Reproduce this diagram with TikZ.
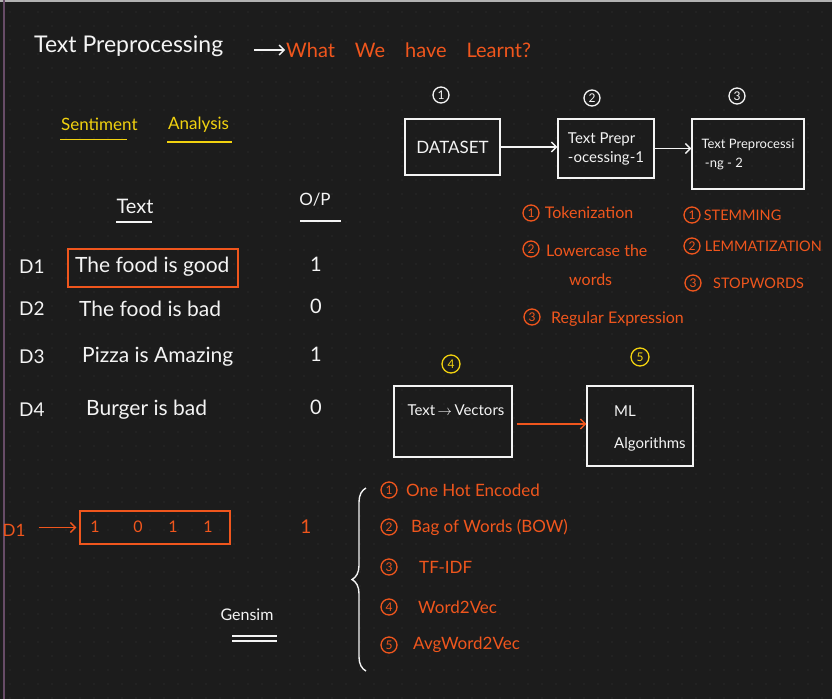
\documentclass[tikz,border=0pt]{standalone}
\usepackage{fontspec}
\setmainfont{Lato}
\usetikzlibrary{arrows.meta,positioning,decorations.pathreplacing}
\definecolor{board}{HTML}{1C1C1C}
\definecolor{chalk}{HTML}{F4F4F4}
\definecolor{marker}{HTML}{F0561D}
\definecolor{hilite}{HTML}{F2D20F}
\definecolor{griddot}{HTML}{3A3A3A}

\tikzset{
  wtext/.style={text=chalk, inner sep=1pt},
  otext/.style={text=marker, inner sep=1pt, font=\fontsize{16}{18}\selectfont},
  ytext/.style={text=hilite, inner sep=1pt, font=\fontsize{17}{19}\selectfont},
  stepbox/.style={draw=chalk, line width=1.4pt, text=chalk, inner sep=2pt},
  num/.style={circle, draw, line width=1.3pt, inner sep=0pt, minimum size=16pt, font=\fontsize{12}{12}\selectfont},
  arr/.style={-{Straight Barb[length=5pt,width=10pt]}, line width=1.3pt},
  uline/.style={line width=1.7pt},
}

\begin{document}
\begin{tikzpicture}[x=1pt, y=-1pt]
  \fill[board] (0,0) rectangle (832,699);
  \useasboundingbox (0,0) rectangle (832,699);
  % dotted board
  \foreach \gx in {10,24,...,830}
    \foreach \gy in {12,26,...,698}
      \fill[griddot] (\gx,\gy) circle (0.7pt);
  \draw[gray!60, line width=2pt] (0,1) -- (832,1);
  \draw[violet!30!black!70, line width=1.5pt] (4,0) -- (4,699);

  % heading
  \node[wtext, anchor=west, font=\fontsize{23}{25}\selectfont] (title) at (33,46) {Text Preprocessing};
  \node[otext, anchor=west, font=\fontsize{20}{22}\selectfont] (learnt) at (285,50) {What\quad We\quad have\quad Learnt?};
  \draw[arr, chalk, shorten <=30pt] (title.east |- learnt.west) -- (learnt.west);

  \node[ytext, anchor=west] (senti) at (60,124) {Sentiment};
  \node[ytext, anchor=west] (analysis) at (167,125) {Analysis};
  \draw[hilite, uline] ([yshift=-8pt]senti.south west) -- ++(67,0);
  \draw[hilite, uline] ([yshift=-8pt]analysis.south west) -- ++(65,0);

  % pipeline
  \node[stepbox, minimum width=95pt, minimum height=56pt, font=\fontsize{17}{19}\selectfont] (ds) at (452.5,147) {DATASET};
  \node[stepbox, minimum width=96pt, minimum height=59pt, align=left, font=\fontsize{15}{19}\selectfont] (pp1) at (606,148.5) {Text Prepr\\-ocessing-1};
  \node[stepbox, minimum width=112pt, minimum height=70pt, align=left, font=\fontsize{13}{19}\selectfont] (pp2) at (748,154) {Text Preprocessi\\ \ -ng - 2};
  \node[num, chalk] (n1) at (441,95) {1};
  \node[num, chalk] (n2) at (592,98) {2};
  \node[num, chalk] (n3) at (737,96) {3};
  \draw[arr, chalk] (ds.east) -- (ds.east -| pp1.west);
  \draw[arr, chalk] (pp1.east) -- (pp1.east -| pp2.west);

  \node[num, marker] (a1) at (531,213) {1};
  \node[otext, right=4pt of a1] (tok) {Tokenization};
  \node[num, marker] (a2) at (531,249) {2};
  \node[otext, anchor=west] (low) at (545,251) {Lowercase the};
  \node[otext, anchor=west] (wrd) at (568,280) {words};
  \node[num, marker] (a3) at (532,317) {3};
  \node[otext, anchor=west] (regex) at (550,319) {Regular Expression};

  \node[num, marker] (b1) at (692,215) {1};
  \node[otext, right=2pt of b1, font=\fontsize{14.5}{16}\selectfont] (stem) {STEMMING};
  \node[num, marker] (b2) at (692,246) {2};
  \node[otext, right=3pt of b2, font=\fontsize{14.5}{16}\selectfont] (lemma) {LEMMATIZATION};
  \node[num, marker] (b3) at (693,283) {3};
  \node[otext, anchor=west, font=\fontsize{14.5}{16}\selectfont] (stop) at (712,283) {STOPWORDS};

  % table
  \node[wtext, font=\fontsize{20}{22}\selectfont] (hText) at (135,206) {Text};
  \node[wtext, font=\fontsize{17}{19}\selectfont] (hOP) at (315,200) {O/P};
  \draw[chalk, uline] (116,222) -- (152,222);
  \draw[chalk, uline] (300,221) -- (341,221);

  \node[draw=marker, line width=1.4pt, minimum width=170pt, minimum height=38pt] (hl) at (153,268) {};
  \foreach \d/\txt/\ty/\tx/\op in {1/The food is good/267/74/1, 2/The food is bad/309/78/0,
                                   3/Pizza is Amazing/357/81/1, 4/Burger is bad/410/85/0}{
    \node[wtext, anchor=west, font=\fontsize{19}{21}\selectfont] (d\d) at (18,\ty) {D\d};
    \node[wtext, anchor=west, font=\fontsize{21}{23}\selectfont] (s\d) at (\tx,\ty) {\txt};
    \node[wtext, font=\fontsize{20}{22}\selectfont] (o\d) at (316,\ty-3) {\op};
  }

  % vectors
  \node[num, hilite, minimum size=18pt] (n4) at (451,364) {4};
  \node[num, hilite, minimum size=18pt] (n5) at (640,357) {5};
  \node[stepbox, minimum width=118pt, minimum height=71pt] (tv) at (453,421.5) {};
  \node[wtext, font=\fontsize{15}{17}\selectfont] (tvt) at (456,410) {Text$\,\rightarrow\,$Vectors};
  \node[stepbox, minimum width=106pt, minimum height=80pt] (ml) at (640,426) {};
  \node[wtext, anchor=west, font=\fontsize{15}{17}\selectfont] (mlt) at (613,411) {ML};
  \node[wtext, anchor=west, font=\fontsize{15}{17}\selectfont] (algt) at (613,444) {Algorithms};
  \draw[arr, marker, shorten <=4pt] (tv.east |- 0,424) -- (ml.west |- 0,424);

  % one row as a vector
  \node[otext, font=\fontsize{17}{19}\selectfont] (vd) at (14,530) {D1};
  \node[draw=marker, line width=1.4pt, minimum width=150pt, minimum height=33pt] (vec) at (155,527.5) {};
  \foreach \v/\vx [count=\i] in {1/95,0/138,1/173,1/208}
    \node[otext, font=\fontsize{16}{18}\selectfont] (v\i) at (\vx,527) {\v};
  \node[otext, font=\fontsize{19}{21}\selectfont] (vop) at (306,527) {1};
  \draw[arr, marker, shorten <=12pt, shorten >=3pt] (vd.east |- vec.west) -- (vec.west);

  % encodings
  \coordinate (bb) at (366,671);
  \coordinate (bt) at (366,488);
  \draw[chalk, line width=1.4pt, decorate, decoration={brace, amplitude=14pt}] (bb) -- (bt);
  \foreach \i/\txt/\ey/\ex in {1/One Hot Encoded/490/405, 2/Bag of Words (BOW)/527/410, 3/TF-IDF/567/418,
                               4/Word2Vec/607/417, 5/AvgWord2Vec/645/412}{
    \node[num, marker] (e\i) at (389,\ey) {\i};
    \node[otext, anchor=west, font=\fontsize{17}{19}\selectfont] (et\i) at (\ex,\ey) {\txt};
  }

  \node[wtext, font=\fontsize{16}{18}\selectfont] (gensim) at (247,615) {Gensim};
  \draw[chalk, line width=1.4pt] (232,636) -- (277,636);
  \draw[chalk, line width=1.4pt] (232,641) -- (277,641);
\end{tikzpicture}
\end{document}
